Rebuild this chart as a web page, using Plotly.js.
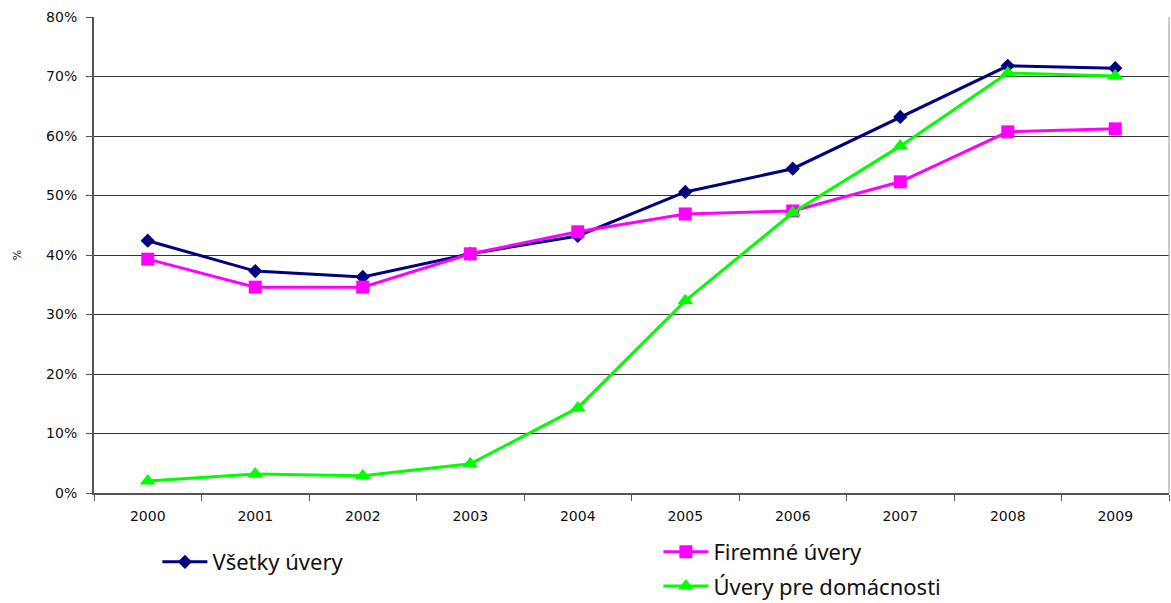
<!DOCTYPE html>
<html><head><meta charset="utf-8">
<script src="https://cdn.plot.ly/plotly-3.0.1.min.js"></script>
<style>body{margin:0;background:#fff}#c{width:1171px;height:603px}</style>
</head><body><div id="c"></div>
<script>
const years = ['2000','2001','2002','2003','2004','2005','2006','2007','2008','2009'];
const vsetky = [42.4, 37.3, 36.3, 40.2, 43.2, 50.6, 54.5, 63.2, 71.8, 71.4];
const firemne = [39.3, 34.6, 34.6, 40.2, 43.9, 46.9, 47.4, 52.3, 60.7, 61.2];
const domacnosti = [2.0, 3.2, 2.9, 4.9, 14.3, 32.3, 47.1, 58.3, 70.6, 70.1];
const names = ['Všetky úvery', 'Firemné úvery', 'Úvery pre domácnosti'];
const yTicks = [0,10,20,30,40,50,60,70,80];
const yTickText = yTicks.map(v => v + '%');

const traces = [
  {x: years, y: vsetky, name: names[0], mode: 'lines+markers', legend: 'legend',
   line: {color: '#000080', width: 3}, marker: {symbol: 'diamond', size: 11, color: '#000080'}},
  {x: years, y: firemne, name: names[1], mode: 'lines+markers', legend: 'legend2',
   line: {color: '#FF00FF', width: 3}, marker: {symbol: 'square', size: 13, color: '#FF00FF'}},
  {x: years, y: domacnosti, name: names[2], mode: 'lines+markers', legend: 'legend3',
   line: {color: '#00FF00', width: 3}, marker: {symbol: 'triangle-up', size: 14, color: '#00FF00'}}
];
const legFont = {family: 'Noto Sans, Liberation Sans, sans-serif', size: 22, color: '#111'};
const tickFont = {family: 'DejaVu Sans, Verdana, sans-serif', size: 14, color: '#111'};
const legCommon = {xanchor: 'left', yanchor: 'middle',
  bgcolor: 'rgba(0,0,0,0)', font: legFont, itemwidth: 45};
const layout = {
  width: 1171, height: 603,
  margin: {l: 94, r: 2, t: 17, b: 110, autoexpand: false},
  paper_bgcolor: '#fff', plot_bgcolor: '#fff',
  xaxis: {type: 'category', range: [-0.5, 9.5], showgrid: false, zeroline: false,
    showline: true, linecolor: '#555', linewidth: 2, tickangle: 0,
    ticks: 'outside', ticklen: 6, tickcolor: '#555', tickson: 'boundaries',
    ticklabelstandoff: 9, tickfont: tickFont},
  yaxis: {range: [0, 80], tickvals: yTicks, ticktext: yTickText,
    showgrid: true, gridcolor: '#333', gridwidth: 1, zeroline: false,
    showline: true, linecolor: '#555', linewidth: 2,
    ticks: 'outside', ticklen: 6, tickcolor: '#555', ticklabelstandoff: 6,
    tickfont: tickFont,
    title: {text: '%', standoff: 22, font: {family: 'DejaVu Sans, sans-serif', size: 11, color: '#111'}}},
  showlegend: true,
  legend: Object.assign({x: 0.059, y: -0.145}, legCommon),
  legend2: Object.assign({x: 0.525, y: -0.124}, legCommon),
  legend3: Object.assign({x: 0.525, y: -0.196}, legCommon),
  shapes: [{type: 'line', xref: 'paper', yref: 'paper', x0: 1, x1: 1, y0: 0, y1: 1, line: {color: '#999', width: 1}}]
};
Plotly.newPlot('c', traces, layout, {displayModeBar: false});
</script></body></html>
